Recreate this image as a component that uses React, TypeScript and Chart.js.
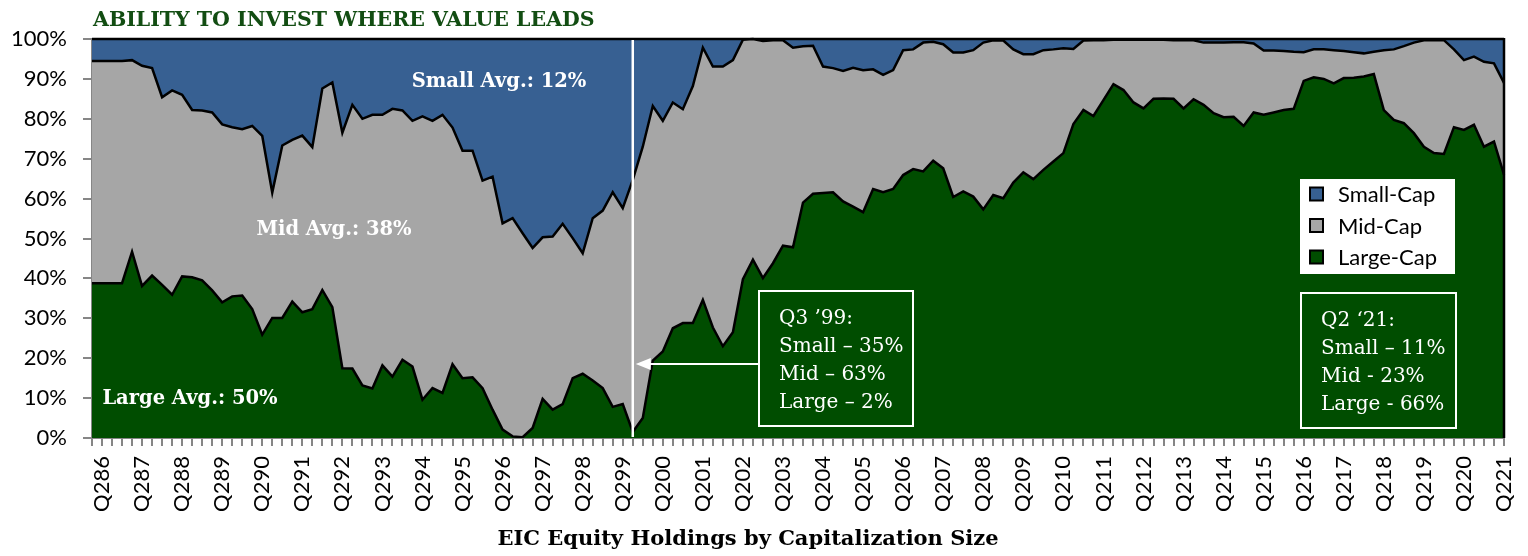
import React, { useEffect, useRef } from 'react';
import { Chart, registerables } from 'chart.js';

Chart.register(...registerables);

// Categories: quarterly from Q1 1986 to Q2 2021 (label format Q + quarter + 2-digit year)
const quarters: string[] = [];
for (let yr = 1986; yr <= 2021; yr++) {
  for (let q = 1; q <= 4; q++) {
    if (yr === 2021 && q > 2) break;
    quarters.push(`Q${q}${String(yr % 100).padStart(2, '0')}`);
  }
}

// Series values (% of holdings)
const largeCap: number[] = [
  38.8, 38.8, 38.8, 38.8, 46.7, 38.1, 40.7, 38.4, 35.9, 40.5,
  40.3, 39.5, 37.0, 34.0, 35.5, 35.7, 32.3, 25.9, 30.1, 30.1,
  34.2, 31.5, 32.3, 37.1, 32.8, 17.5, 17.4, 13.2, 12.4, 18.2,
  15.4, 19.6, 17.9, 9.6, 12.5, 11.3, 18.5, 15.0, 15.2, 12.5,
  7.1, 2.1, 0.4, 0.2, 2.5, 9.8, 7.1, 8.5, 15.0, 16.1,
  14.4, 12.5, 7.8, 8.5, 1.5, 5.0, 19.4, 21.7, 27.5, 28.8,
  28.8, 34.6, 27.7, 23.0, 26.5, 39.8, 44.7, 40.1, 43.8, 48.2,
  47.8, 59.0, 61.2, 61.4, 61.6, 59.3, 58.0, 56.6, 62.4, 61.6,
  62.4, 65.9, 67.4, 66.8, 69.5, 67.6, 60.4, 61.8, 60.5, 57.3,
  60.9, 60.1, 64.0, 66.6, 64.9, 67.2, 69.3, 71.4, 78.7, 82.2,
  80.7, 84.7, 88.7, 87.2, 84.1, 82.6, 85.0, 85.1, 85.0, 82.6,
  84.9, 83.5, 81.4, 80.4, 80.5, 78.2, 81.6, 81.0, 81.6, 82.2,
  82.5, 89.5, 90.4, 90.0, 88.9, 90.2, 90.3, 90.6, 91.2, 82.2,
  79.7, 78.9, 76.4, 73.0, 71.4, 71.2, 77.9, 77.2, 78.5, 73.0,
  74.3, 66.0,
];

const midCap: number[] = [
  55.7, 55.7, 55.7, 55.7, 48.0, 55.2, 52.0, 47.0, 51.2, 45.5,
  41.9, 42.6, 44.6, 44.6, 42.4, 41.7, 45.9, 49.8, 31.4, 43.2,
  40.5, 44.3, 40.6, 50.5, 56.3, 59.0, 66.1, 66.8, 68.6, 62.8,
  67.1, 62.5, 61.6, 71.0, 67.0, 69.7, 59.3, 57.0, 56.8, 52.0,
  58.4, 51.7, 54.7, 51.1, 45.1, 40.5, 43.4, 45.2, 35.1, 30.2,
  40.7, 44.5, 53.8, 49.1, 63.2, 68.0, 63.8, 57.8, 56.6, 53.6,
  59.4, 63.2, 65.4, 70.1, 68.2, 60.0, 55.3, 59.4, 55.9, 51.5,
  50.0, 39.2, 37.1, 31.7, 31.1, 32.7, 34.8, 35.6, 30.0, 29.4,
  29.8, 31.3, 30.0, 32.3, 29.8, 31.1, 36.2, 34.8, 36.7, 41.8,
  38.8, 39.5, 33.4, 29.6, 31.3, 30.0, 28.1, 26.3, 18.8, 17.4,
  19.0, 15.0, 11.1, 12.6, 15.7, 17.2, 14.8, 14.7, 14.7, 17.1,
  14.8, 15.6, 17.7, 18.7, 18.7, 21.0, 17.3, 16.1, 15.5, 14.8,
  14.3, 7.2, 7.0, 7.4, 8.3, 6.8, 6.4, 5.8, 5.6, 15.0,
  17.7, 19.3, 22.7, 26.7, 28.3, 28.5, 19.5, 17.5, 17.1, 21.3,
  19.6, 23.0,
];

const smallCap: number[] = [
  5.5, 5.5, 5.5, 5.5, 5.3, 6.7, 7.3, 14.6, 12.9, 14.0,
  17.8, 17.9, 18.4, 21.4, 22.1, 22.6, 21.8, 24.3, 38.5, 26.7,
  25.3, 24.2, 27.1, 12.4, 10.9, 23.5, 16.5, 20.0, 19.0, 19.0,
  17.5, 17.9, 20.5, 19.4, 20.5, 19.0, 22.2, 28.0, 28.0, 35.5,
  34.5, 46.2, 44.9, 48.7, 52.4, 49.7, 49.5, 46.3, 49.9, 53.7,
  44.9, 43.0, 38.4, 42.4, 35.3, 27.0, 16.8, 20.5, 15.9, 17.6,
  11.8, 2.2, 6.9, 6.9, 5.3, 0.2, 0.0, 0.5, 0.3, 0.3,
  2.2, 1.8, 1.7, 6.9, 7.3, 8.0, 7.2, 7.8, 7.6, 9.0,
  7.8, 2.8, 2.6, 0.9, 0.7, 1.3, 3.4, 3.4, 2.8, 0.9,
  0.3, 0.4, 2.6, 3.8, 3.8, 2.8, 2.6, 2.3, 2.5, 0.4,
  0.3, 0.3, 0.2, 0.2, 0.2, 0.2, 0.2, 0.2, 0.3, 0.3,
  0.3, 0.9, 0.9, 0.9, 0.8, 0.8, 1.1, 2.9, 2.9, 3.0,
  3.2, 3.3, 2.6, 2.6, 2.8, 3.0, 3.3, 3.6, 3.2, 2.8,
  2.6, 1.8, 0.9, 0.3, 0.3, 0.3, 2.6, 5.3, 4.4, 5.7,
  6.1, 11.0,
];

const yTickValues: number[] = [0, 10, 20, 30, 40, 50, 60, 70, 80, 90, 100];

const chartTitle = 'ABILITY TO INVEST WHERE VALUE LEADS';
const xAxisTitle = 'EIC Equity Holdings by Capitalization Size';
const markerQuarter = 'Q399';
const box1Lines = ['Q3 \u201999:', 'Small \u2013 35%', 'Mid \u2013 63%', 'Large \u2013 2%'];
const box2Lines = ['Q2 \u201821:', 'Small \u2013 11%', 'Mid - 23%', 'Large - 66%'];
const avgLabels = ['Small Avg.: 12%', 'Mid Avg.: 38%', 'Large Avg.: 50%'];

const BLUE = '#376092';
const GRAY = '#A6A6A6';
const GREEN = '#004D00';
const TITLE_GREEN = '#124D12';
const AXIS_GRAY = '#868686';
const SERIF = '"DejaVu Serif", "Liberation Serif", serif';
const SANS = 'Lato, "Noto Sans", sans-serif';

const annotationPlugin = {
  id: 'annotations',
  afterDatasetsDraw(chart: any) {
    const { ctx, chartArea: a, scales } = chart;
    const xs = scales.x;
    ctx.save();

    // right edge outline of the stacked areas
    ctx.strokeStyle = '#000';
    ctx.lineWidth = 2.5;
    ctx.beginPath();
    ctx.moveTo(a.right, a.top - 1);
    ctx.lineTo(a.right, a.bottom);
    ctx.stroke();

    // white marker line at Q3 '99
    const xm = xs.getPixelForValue(quarters.indexOf(markerQuarter));
    ctx.strokeStyle = '#fff';
    ctx.lineWidth = 2.5;
    ctx.beginPath();
    ctx.moveTo(xm, a.top + 1);
    ctx.lineTo(xm, a.bottom - 1);
    ctx.stroke();

    // arrow from box 1 to marker line
    const ay = 364;
    ctx.lineWidth = 2;
    ctx.beginPath();
    ctx.moveTo(759, ay);
    ctx.lineTo(xm + 14, ay);
    ctx.stroke();
    ctx.fillStyle = '#fff';
    ctx.beginPath();
    ctx.moveTo(xm + 3, ay);
    ctx.lineTo(xm + 18, ay - 6);
    ctx.lineTo(xm + 18, ay + 6);
    ctx.closePath();
    ctx.fill();

    // annotation boxes
    const drawBox = (x: number, y: number, w: number, h: number, lines: string[], tx: number, ty: number) => {
      ctx.fillStyle = GREEN;
      ctx.fillRect(x, y, w, h);
      ctx.strokeStyle = '#fff';
      ctx.lineWidth = 2;
      ctx.strokeRect(x, y, w, h);
      ctx.fillStyle = '#fff';
      ctx.font = `20px ${SERIF}`;
      ctx.textAlign = 'left';
      ctx.textBaseline = 'middle';
      lines.forEach((l, i) => ctx.fillText(l, tx, ty + i * 28));
    };
    drawBox(759, 291, 154, 135, box1Lines, 779, 319);
    drawBox(1301, 293, 155, 135, box2Lines, 1321, 321);

    // average labels
    ctx.fillStyle = '#fff';
    ctx.font = `bold 19.5px ${SERIF}`;
    ctx.textAlign = 'center';
    ctx.textBaseline = 'middle';
    ctx.fillText(avgLabels[0], 499, 82);
    ctx.fillText(avgLabels[1], 334, 230);
    ctx.fillText(avgLabels[2], 190, 399);

    // legend (custom, inside plot)
    ctx.fillStyle = '#fff';
    ctx.fillRect(1300, 179, 155, 95);
    const ds = chart.data.datasets;
    const order = [2, 1, 0];
    ctx.font = `22px ${SANS}`;
    ctx.textAlign = 'left';
    ctx.textBaseline = 'middle';
    order.forEach((di, i) => {
      const cy = 194 + i * 31.5;
      ctx.fillStyle = ds[di].backgroundColor;
      ctx.fillRect(1310, cy - 6.5, 13, 13);
      ctx.strokeStyle = '#000';
      ctx.lineWidth = 2;
      ctx.strokeRect(1310, cy - 6.5, 13, 13);
      ctx.fillStyle = '#000';
      ctx.fillText(ds[di].label, 1338, cy + 1);
    });

    // chart title
    ctx.fillStyle = TITLE_GREEN;
    ctx.font = `bold 20.5px ${SERIF}`;
    ctx.textAlign = 'left';
    ctx.textBaseline = 'middle';
    ctx.fillText(chartTitle, 93, 21);

    // x axis title
    ctx.fillStyle = '#000';
    ctx.font = `bold 21px ${SERIF}`;
    ctx.textAlign = 'center';
    ctx.fillText(xAxisTitle, 748, 540);

    ctx.restore();
  },
};

export default function App() {
  const ref = useRef<HTMLCanvasElement | null>(null);

  useEffect(() => {
    if (!ref.current) return;
    const clip = { left: 0, top: 3, right: 3, bottom: 0 } as any;
    const chart = new Chart(ref.current, {
      type: 'line',
      data: {
        labels: quarters,
        datasets: [
          {
            label: 'Large-Cap',
            data: largeCap,
            backgroundColor: GREEN,
            borderColor: '#000',
            borderWidth: 2.5,
            fill: 'origin',
            pointRadius: 0,
            tension: 0,
            clip,
          },
          {
            label: 'Mid-Cap',
            data: midCap,
            backgroundColor: GRAY,
            borderColor: '#000',
            borderWidth: 2.5,
            fill: '-1',
            pointRadius: 0,
            tension: 0,
            clip,
          },
          {
            label: 'Small-Cap',
            data: smallCap,
            backgroundColor: BLUE,
            borderColor: '#000',
            borderWidth: 2.5,
            fill: '-1',
            pointRadius: 0,
            tension: 0,
            clip,
          },
        ],
      },
      options: {
        animation: false,
        responsive: false,
        devicePixelRatio: 1,
        layout: { padding: { left: 0, top: 39, right: 24, bottom: 0 } },
        plugins: {
          legend: { display: false },
          tooltip: { enabled: false },
          title: { display: false },
        },
        elements: { line: { borderJoinStyle: 'miter' } },
        scales: {
          x: {
            type: 'category',
            offset: false,
            grid: {
              display: true,
              drawOnChartArea: false,
              drawTicks: true,
              tickLength: 8,
              color: AXIS_GRAY,
              tickColor: AXIS_GRAY,
              lineWidth: 2,
            },
            border: { display: true, color: AXIS_GRAY, width: 2 },
            ticks: {
              autoSkip: false,
              minRotation: 90,
              maxRotation: 90,
              padding: 10,
              color: '#000',
              font: { family: SANS, size: 22 },
              callback: (_v: any, i: number) => (quarters[i].startsWith('Q2') ? quarters[i] : ''),
            },
            afterFit: (s: any) => {
              s.height = 118;
              s.paddingLeft = 0;
              s.paddingRight = 0;
            },
          },
          y: {
            stacked: true,
            min: 0,
            max: 100,
            afterBuildTicks: (s: any) => {
              s.ticks = yTickValues.map((v) => ({ value: v }));
            },
            grid: {
              display: true,
              drawOnChartArea: false,
              tickLength: 9,
              color: AXIS_GRAY,
              tickColor: AXIS_GRAY,
              lineWidth: 2,
            },
            border: { display: true, color: AXIS_GRAY, width: 2 },
            ticks: {
              padding: 16,
              color: '#000',
              font: { family: SANS, size: 22 },
              callback: (v: any) => `${v}%`,
            },
            afterFit: (s: any) => {
              s.width = 92;
            },
          },
        },
      },
      plugins: [annotationPlugin],
    });
    return () => chart.destroy();
  }, []);

  return (
    <div style={{ position: 'absolute', left: 0, top: 0, width: 1528, height: 556, background: '#fff' }}>
      <canvas ref={ref} width={1528} height={556} style={{ display: 'block', width: 1528, height: 556 }} />
    </div>
  );
}
